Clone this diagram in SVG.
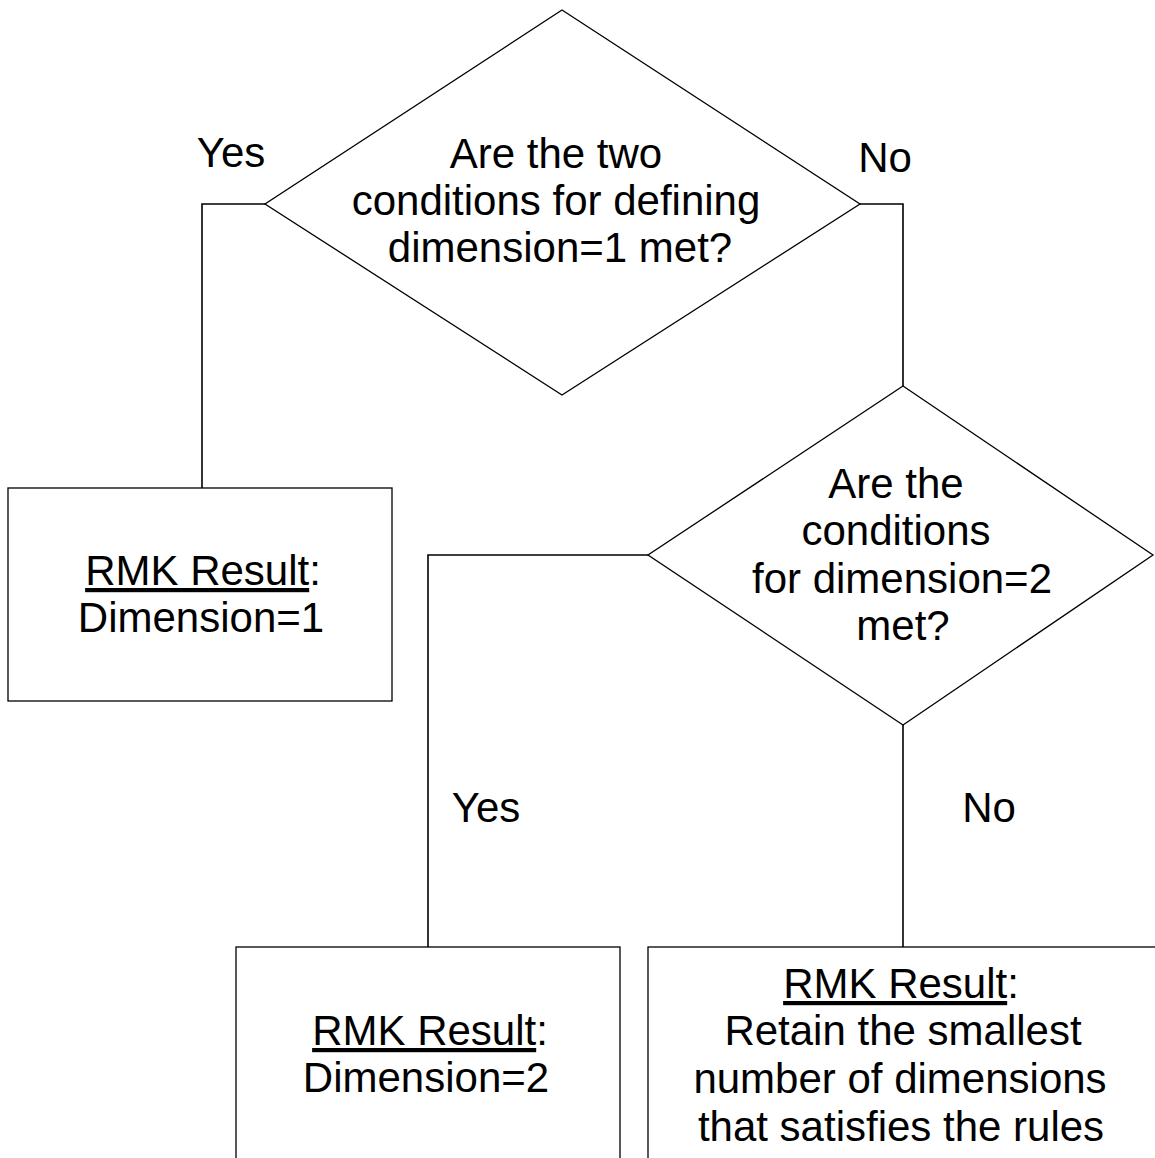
<svg xmlns="http://www.w3.org/2000/svg" width="1155" height="1158" viewBox="0 0 1155 1158">
<style>
text{font-family:"Liberation Sans",Arial,sans-serif;font-size:42px;fill:#000;text-anchor:middle}
.shape{fill:#fff;stroke:#000;stroke-width:1.3}
.conn{fill:none;stroke:#000;stroke-width:1.6}
.u{text-decoration:underline}
</style>
<rect width="1155" height="1158" fill="#fff"/>
<g id="connectors">
<polyline class="conn" points="265,204 202,204 202,488"/>
<polyline class="conn" points="860,204 903,204 903,386"/>
<polyline class="conn" points="648,555 428,555 428,947"/>
<polyline class="conn" points="903,725 903,947"/>
<text x="231" y="167">Yes</text>
<text x="885" y="172">No</text>
<text x="486" y="822">Yes</text>
<text x="989" y="822">No</text>
</g>
<g id="decision1">
<polygon class="shape" points="562,10 860,204 562,395 265,204"/>
<text x="556" y="168">Are the two</text>
<text x="556" y="215">conditions for defining</text>
<text x="560" y="262">dimension=1 met?</text>
</g>
<g id="result1">
<rect class="shape" x="8" y="488" width="384" height="213"/>
<text x="203" y="585"><tspan class="u">RMK Result</tspan>:</text>
<text x="201" y="632">Dimension=1</text>
</g>
<g id="decision2">
<polygon class="shape" points="903,386 1153,555 903,725 648,555"/>
<text x="896" y="498">Are the</text>
<text x="896" y="545">conditions</text>
<text x="902" y="593">for dimension=2</text>
<text x="903" y="640">met?</text>
</g>
<g id="result2">
<rect class="shape" x="236" y="947" width="384" height="230"/>
<text x="430" y="1045"><tspan class="u">RMK Result</tspan>:</text>
<text x="426" y="1092">Dimension=2</text>
</g>
<g id="result3">
<rect class="shape" x="648" y="947" width="530" height="230"/>
<text x="901" y="998"><tspan class="u">RMK Result</tspan>:</text>
<text x="903" y="1045">Retain the smallest</text>
<text x="900" y="1093">number of dimensions</text>
<text x="901" y="1141">that satisfies the rules</text>
</g>
</svg>
